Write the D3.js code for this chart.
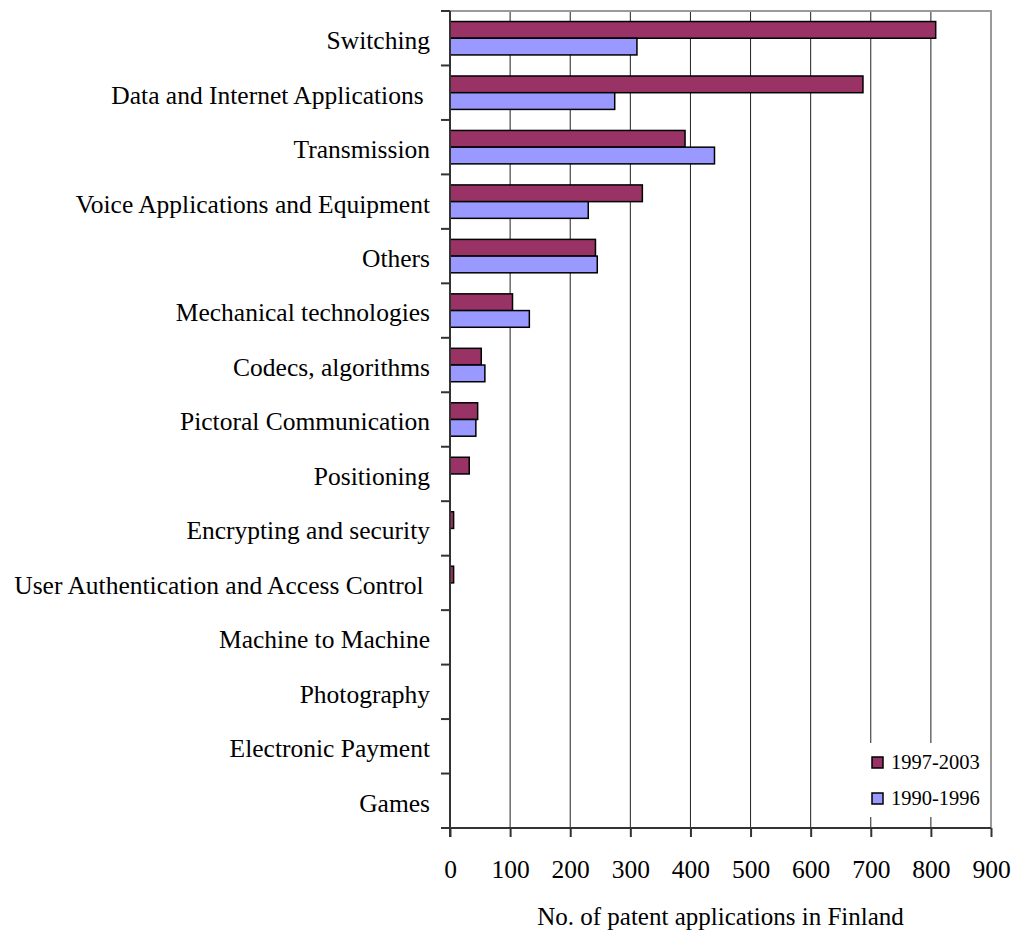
<!DOCTYPE html>
<html>
<head>
<meta charset="utf-8">
<script src="https://cdn.jsdelivr.net/npm/d3@7"></script>
<style>
  html, body { margin: 0; padding: 0; background: #fff; }
  svg { display: block; font-family: "Liberation Serif", "Times New Roman", serif; }
  .cat text { white-space: pre; }
</style>
</head>
<body>
<svg id="chart" width="1018" height="934"></svg>
<script>
// Patent application categories, top to bottom
const categories = [
  "Switching",
  "Data and Internet Applications ",
  "Transmission",
  "Voice Applications and Equipment",
  "Others",
  "Mechanical technologies",
  "Codecs, algorithms",
  "Pictoral Communication",
  "Positioning",
  "Encrypting and security",
  "User Authentication and Access Control ",
  "Machine to Machine",
  "Photography",
  "Electronic Payment",
  "Games"
];

const seriesNames = ["1997-2003", "1990-1996"];
const seriesColors = ["#993366", "#9999ff"];

const values1997_2003 = [808, 687, 391, 320, 242, 104, 52, 46, 32, 6, 6, 0, 0, 0, 0];
const values1990_1996 = [311, 274, 440, 230, 245, 132, 58, 43, 0, 0, 0, 0, 0, 0, 0];

const xTicks = [0, 100, 200, 300, 400, 500, 600, 700, 800, 900];
const xTitle = "No. of patent applications in Finland";

const svg = d3.select("#chart");
const margin = { left: 450, right: 27, top: 11, bottom: 106 };
const W = 1018, H = 934;
const plotLeft = margin.left, plotRight = W - margin.right;
const plotTop = margin.top, plotBottom = H - margin.bottom;

const x = d3.scaleLinear().domain([0, 900]).range([plotLeft, plotRight]);
const y = d3.scaleBand().domain(categories).range([plotTop, plotBottom]).padding(0);
const ySeries = d3.scaleBand().domain(seriesNames).range([0, y.bandwidth()])
  .paddingInner(0).paddingOuter(0.63);

const rows = categories.map((c, i) => ({
  cat: c,
  vals: [values1997_2003[i], values1990_1996[i]]
}));

// Vertical gridlines
svg.append("g")
  .selectAll("line")
  .data(xTicks.filter(t => t > 0 && t < 900))
  .join("line")
  .attr("x1", d => x(d)).attr("x2", d => x(d))
  .attr("y1", plotTop).attr("y2", plotBottom)
  .attr("stroke", "#222").attr("stroke-width", 1);

// Top and right frame
svg.append("path")
  .attr("d", `M${plotLeft},${plotTop}H${plotRight}V${plotBottom}`)
  .attr("fill", "none").attr("stroke", "#9a9a9a").attr("stroke-width", 2);

// Bars
const groups = svg.append("g")
  .selectAll("g")
  .data(rows)
  .join("g")
  .attr("transform", d => `translate(0,${y(d.cat)})`);

groups.selectAll("rect")
  .data(d => d.vals.map((v, j) => ({ v, name: seriesNames[j], color: seriesColors[j] })).filter(e => e.v > 0))
  .join("rect")
  .attr("x", x(0))
  .attr("y", e => ySeries(e.name))
  .attr("width", e => x(e.v) - x(0))
  .attr("height", ySeries.bandwidth())
  .attr("fill", e => e.color)
  .attr("stroke", "#000")
  .attr("stroke-width", 1.5);

// Legend (white box over gridlines)
const legend = svg.append("g");
legend.append("rect")
  .attr("x", 862).attr("y", 743).attr("width", 124).attr("height", 74)
  .attr("fill", "#fff");
seriesNames.forEach((name, j) => {
  const ly = 757 + j * 36;
  legend.append("rect")
    .attr("x", 872).attr("y", ly).attr("width", 11).attr("height", 11)
    .attr("fill", seriesColors[j]).attr("stroke", "#000").attr("stroke-width", 1.5);
  legend.append("text")
    .attr("x", 891).attr("y", ly + 12)
    .attr("font-size", "20.5px").attr("fill", "#000")
    .text(name);
});

// Y axis (category ticks at band boundaries)
const yAxisG = svg.append("g");
yAxisG.append("line")
  .attr("x1", plotLeft).attr("x2", plotLeft)
  .attr("y1", plotTop).attr("y2", plotBottom + 9)
  .attr("stroke", "#333").attr("stroke-width", 2);
yAxisG.selectAll("line.tick")
  .data(categories.map(c => y(c)).concat([plotBottom]))
  .join("line")
  .attr("class", "tick")
  .attr("x1", plotLeft - 9).attr("x2", plotLeft)
  .attr("y1", d => d).attr("y2", d => d)
  .attr("stroke", "#333").attr("stroke-width", 2);

const catLabels = svg.append("g").attr("class", "cat");
catLabels.selectAll("text")
  .data(categories)
  .join("text")
  .attr("x", plotLeft - 20)
  .attr("y", d => y(d) + y.bandwidth() / 2 + 2)
  .attr("dy", "0.35em")
  .attr("text-anchor", "end")
  .attr("font-size", "25.5px")
  .attr("fill", "#000")
  .text(d => d);

// X axis
const xAxis = d3.axisBottom(x).tickValues(xTicks).tickSize(9).tickPadding(23).tickFormat(d3.format("d"));
const xAxisG = svg.append("g")
  .attr("transform", `translate(0,${plotBottom})`)
  .call(xAxis);
xAxisG.select(".domain").attr("stroke", "#333").attr("stroke-width", 2)
  .attr("d", `M${plotLeft - 9},0H${plotRight}`);
xAxisG.selectAll(".tick line").attr("stroke", "#333").attr("stroke-width", 2);
xAxisG.selectAll(".tick text")
  .attr("font-family", "Liberation Serif, Times New Roman, serif")
  .attr("font-size", "25.5px").attr("fill", "#000");

svg.append("text")
  .attr("x", (plotLeft + plotRight) / 2)
  .attr("y", 925)
  .attr("text-anchor", "middle")
  .attr("font-size", "25px")
  .attr("fill", "#000")
  .text(xTitle);
</script>
</body>
</html>
